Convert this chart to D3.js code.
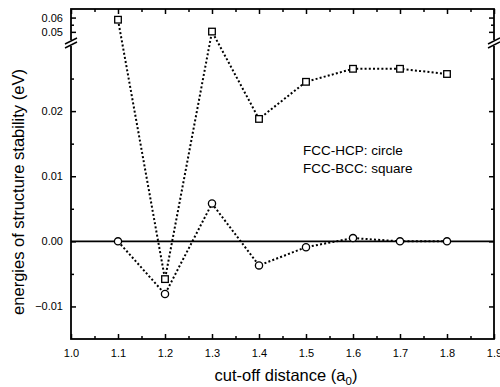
<!DOCTYPE html>
<html>
<head>
<meta charset="utf-8">
<script src="https://cdn.jsdelivr.net/npm/d3@7"></script>
<style>
  body { margin: 0; background: #fff; }
  svg { display: block; font-family: Arial, "Liberation Sans", sans-serif; }
</style>
</head>
<body>
<div id="chart"></div>
<script>
// 数据
const cutoff = [1.1, 1.2, 1.3, 1.4, 1.5, 1.6, 1.7, 1.8];
const fccBcc = [0.0585, -0.0058, 0.0502, 0.0188, 0.0245, 0.0265, 0.0265, 0.0257];   // square
const fccHcp = [0.0000, -0.0081, 0.0058, -0.0037, -0.0009, 0.0005, 0.0000, 0.0000]; // circle
const xTicks = [1.0, 1.1, 1.2, 1.3, 1.4, 1.5, 1.6, 1.7, 1.8, 1.9];
const yTicksLow = [-0.01, 0.00, 0.01, 0.02];
const yTicksHigh = [0.05, 0.06];
const legendLines = ["FCC-HCP: circle", "FCC-BCC: square"];

const W = 500, H = 387;
const plot = { left: 71, right: 494, top: 9, bottom: 339 };
const breakY = 43;

const svg = d3.select("#chart").append("svg")
    .attr("width", W)
    .attr("height", H);

// 比例尺
const x = d3.scaleLinear().domain([1.0, 1.9]).range([plot.left, plot.right]);
const yLow = d3.scaleLinear().domain([-0.015, 0.030]).range([plot.bottom, 46]);
const yHigh = d3.scaleLinear().domain([0.045, 0.066]).range([39, plot.top]);
const y = v => v > 0.035 ? yHigh(v) : yLow(v);

// 零线
svg.append("line")
    .attr("x1", plot.left).attr("x2", plot.right)
    .attr("y1", yLow(0)).attr("y2", yLow(0))
    .attr("stroke", "#000").attr("stroke-width", 1.6);

// 边框
svg.append("rect")
    .attr("x", plot.left).attr("y", plot.top)
    .attr("width", plot.right - plot.left).attr("height", plot.bottom - plot.top)
    .attr("fill", "none").attr("stroke", "#000").attr("stroke-width", 1.8);

// 坐标轴刻度 (向内)
const xMinor = [1.05, 1.15, 1.25, 1.35, 1.45, 1.55, 1.65, 1.75, 1.85];
const bottomAxis = d3.axisBottom(x).tickValues(xTicks).tickSize(-5).tickPadding(10)
    .tickFormat(d3.format(".1f"));
svg.append("g").attr("transform", `translate(0,${plot.bottom})`).call(bottomAxis)
    .call(g => g.select(".domain").remove());
svg.append("g").attr("transform", `translate(0,${plot.bottom})`)
    .call(d3.axisBottom(x).tickValues(xMinor).tickSize(-3).tickFormat(""))
    .call(g => g.select(".domain").remove());
svg.append("g").attr("transform", `translate(0,${plot.top})`)
    .call(d3.axisTop(x).tickValues(xTicks).tickSize(-5).tickFormat(""))
    .call(g => g.select(".domain").remove());
svg.append("g").attr("transform", `translate(0,${plot.top})`)
    .call(d3.axisTop(x).tickValues(xMinor).tickSize(-3).tickFormat(""))
    .call(g => g.select(".domain").remove());

const fmt = d3.format(".2f");
const yMinorLow = [-0.005, 0.005, 0.015, 0.025];
const yMinorHigh = [0.055];
[[plot.left, d3.axisLeft, fmt], [plot.right, d3.axisRight, ""]].forEach(([px, ax, f]) => {
    svg.append("g").attr("transform", `translate(${px},0)`)
        .call(ax(yLow).tickValues(yTicksLow).tickSize(-5).tickPadding(8).tickFormat(f))
        .call(g => g.select(".domain").remove());
    svg.append("g").attr("transform", `translate(${px},0)`)
        .call(ax(yHigh).tickValues(yTicksHigh).tickSize(-5).tickPadding(8).tickFormat(f))
        .call(g => g.select(".domain").remove());
    svg.append("g").attr("transform", `translate(${px},0)`)
        .call(ax(yLow).tickValues(yMinorLow).tickSize(-3).tickFormat(""))
        .call(g => g.select(".domain").remove());
    svg.append("g").attr("transform", `translate(${px},0)`)
        .call(ax(yHigh).tickValues(yMinorHigh).tickSize(-3).tickFormat(""))
        .call(g => g.select(".domain").remove());
});

svg.selectAll(".tick line").attr("stroke", "#000").attr("stroke-width", 1.5);
svg.selectAll(".tick text").attr("font-size", 11).attr("fill", "#000")
    .attr("font-family", "Arial, 'Liberation Sans', sans-serif");

// 断轴标记
[plot.left, plot.right].forEach(px => {
    svg.append("rect")
        .attr("x", px - 3).attr("y", breakY - 3)
        .attr("width", 6).attr("height", 6)
        .attr("fill", "#fff");
    [-2, 2].forEach(off => {
        svg.append("line")
            .attr("x1", px - 6).attr("y1", breakY + off + 3)
            .attr("x2", px + 6).attr("y2", breakY + off - 3)
            .attr("stroke", "#000").attr("stroke-width", 1.5);
    });
});

// 曲线
const line = d3.line().x(d => x(d[0])).y(d => y(d[1]));
const bccData = cutoff.map((c, i) => [c, fccBcc[i]]);
const hcpData = cutoff.map((c, i) => [c, fccHcp[i]]);

[bccData, hcpData].forEach(data => {
    svg.append("path")
        .datum(data)
        .attr("d", line)
        .attr("fill", "none")
        .attr("stroke", "#000")
        .attr("stroke-width", 2)
        .attr("stroke-dasharray", "2,2.2");
});

svg.selectAll(".sq").data(bccData).enter().append("rect")
    .attr("x", d => x(d[0]) - 3.3)
    .attr("y", d => y(d[1]) - 3.3)
    .attr("width", 6.6).attr("height", 6.6)
    .attr("fill", "#fff").attr("stroke", "#000").attr("stroke-width", 1.3);

svg.selectAll(".ci").data(hcpData).enter().append("circle")
    .attr("cx", d => x(d[0]))
    .attr("cy", d => y(d[1]))
    .attr("r", 3.6)
    .attr("fill", "#fff").attr("stroke", "#000").attr("stroke-width", 1.3);

// 图例文字
legendLines.forEach((t, i) => {
    svg.append("text")
        .attr("x", 303).attr("y", 155 + i * 18)
        .attr("font-size", 13.5)
        .text(t);
});

// 坐标轴标题
const xt = svg.append("text")
    .attr("x", 286).attr("y", 381)
    .attr("text-anchor", "middle")
    .attr("font-size", 16.5);
xt.append("tspan").text("cut-off distance (a");
xt.append("tspan").attr("font-size", 11.5).attr("dy", 4).text("0");
xt.append("tspan").attr("dy", -4).text(")");

svg.append("text")
    .attr("transform", `translate(24,192) rotate(-90)`)
    .attr("text-anchor", "middle")
    .attr("font-size", 16.5)
    .text("energies of structure stability (eV)");
</script>
</body>
</html>
